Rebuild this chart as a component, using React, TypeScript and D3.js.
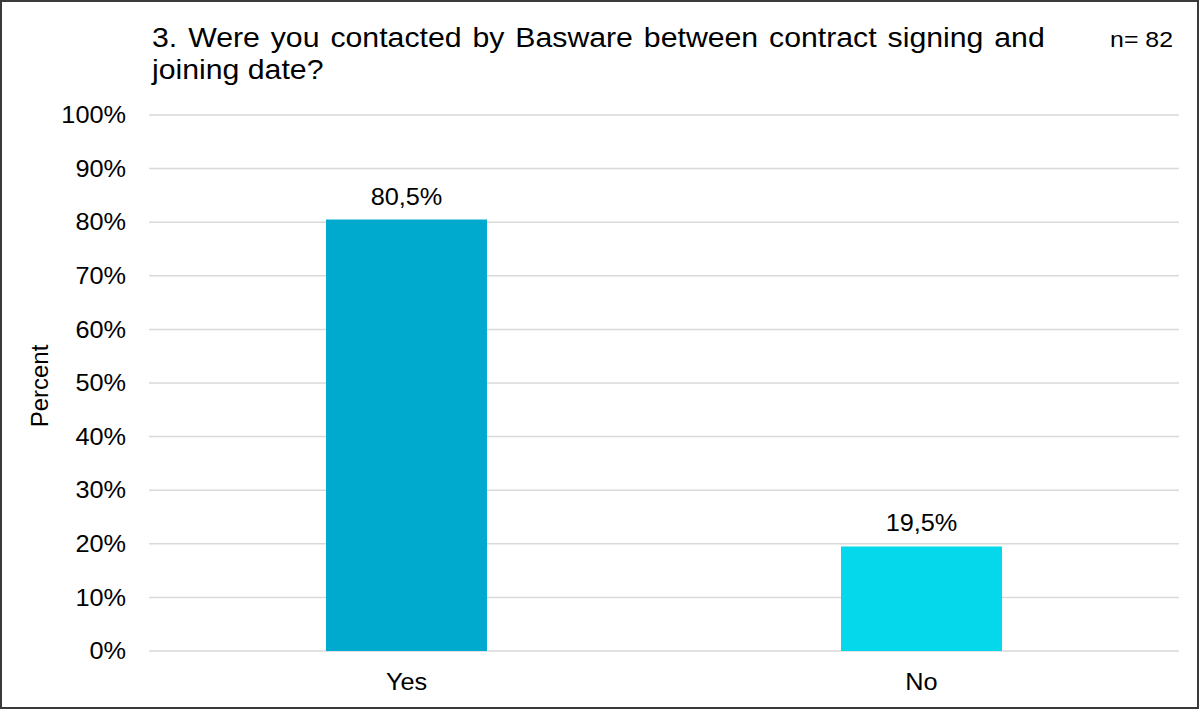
import React, { useEffect } from "react";
import * as d3 from "d3";

const categories: string[] = ["Yes", "No"];
const values: number[] = [80.5, 19.5];
const valueLabels: string[] = ["80,5%", "19,5%"];
const barColors: string[] = ["#00AACF", "#05D8EA"];
const yTicks: number[] = [0, 10, 20, 30, 40, 50, 60, 70, 80, 90, 100];
const titleLines: string[] = [
  "3. Were you contacted by Basware between contract signing and",
  "joining date?",
];
const nLabel = "n= 82";
const yAxisTitle = "Percent";

const W = 1200;
const H = 709;
const FONT = "'Liberation Sans', Arial, sans-serif";
const SX = 1.1;

function SText(props: {
  x: number;
  y: number;
  size: number;
  anchor?: "start" | "middle" | "end";
  dy?: string;
  wordSpacing?: number;
  children: React.ReactNode;
}) {
  return (
    <text
      transform={`translate(${props.x},${props.y}) scale(${SX},1)`}
      fontSize={props.size}
      textAnchor={props.anchor || "start"}
      dy={props.dy}
      wordSpacing={props.wordSpacing}
      fill="#000"
    >
      {props.children}
    </text>
  );
}

export default function App() {
  useEffect(() => {
    document.body.style.margin = "0";
  }, []);

  const plotLeft = 149;
  const plotRight = 1179;
  const plotTop = 115;
  const plotBottom = 651;

  const x = d3
    .scaleBand<string>()
    .domain(categories)
    .range([plotLeft, plotRight])
    .paddingInner(0.6874)
    .paddingOuter(0.3437);
  const y = d3.scaleLinear().domain([0, 100]).range([plotBottom, plotTop]);

  return (
    <svg width={W} height={H} style={{ display: "block" }} fontFamily={FONT}>
      <rect x={0} y={0} width={W} height={H} fill="#ffffff" />
      <rect x={1} y={1} width={W - 3} height={H - 2} fill="none" stroke="#3a3a3a" strokeWidth={2} />

      {/* title */}
      <SText x={152} y={46.5} size={27.5} wordSpacing={2.3}>
        {titleLines[0]}
      </SText>
      <SText x={152} y={79} size={27.5}>
        {titleLines[1]}
      </SText>
      <SText x={1173} y={46.5} size={22.6} anchor="end">
        {nLabel}
      </SText>

      {/* grid */}
      {yTicks.map((t) => (
        <line
          key={"g" + t}
          x1={plotLeft}
          x2={plotRight}
          y1={y(t)}
          y2={y(t)}
          stroke="#D9D9D9"
          strokeWidth={1.5}
        />
      ))}
      {yTicks.map((t) => (
        <SText key={"t" + t} x={126} y={y(t)} dy="0.36em" size={23} anchor="end">
          {t + "%"}
        </SText>
      ))}

      {/* y axis title */}
      <text
        transform={`translate(48,${(plotTop + plotBottom) / 2 + 3}) rotate(-90)`}
        fontSize={24}
        textAnchor="middle"
        fill="#000"
      >
        {yAxisTitle}
      </text>

      {/* bars */}
      {categories.map((c, i) => (
        <rect
          key={"b" + c}
          x={x(c)!}
          y={y(values[i])}
          width={x.bandwidth()}
          height={y(0) - y(values[i])}
          fill={barColors[i]}
        />
      ))}
      {categories.map((c, i) => (
        <SText
          key={"v" + c}
          x={x(c)! + x.bandwidth() / 2}
          y={y(values[i]) - 15}
          size={23}
          anchor="middle"
        >
          {valueLabels[i]}
        </SText>
      ))}
      {categories.map((c) => (
        <SText key={"c" + c} x={x(c)! + x.bandwidth() / 2} y={690} size={23} anchor="middle">
          {c}
        </SText>
      ))}
    </svg>
  );
}
